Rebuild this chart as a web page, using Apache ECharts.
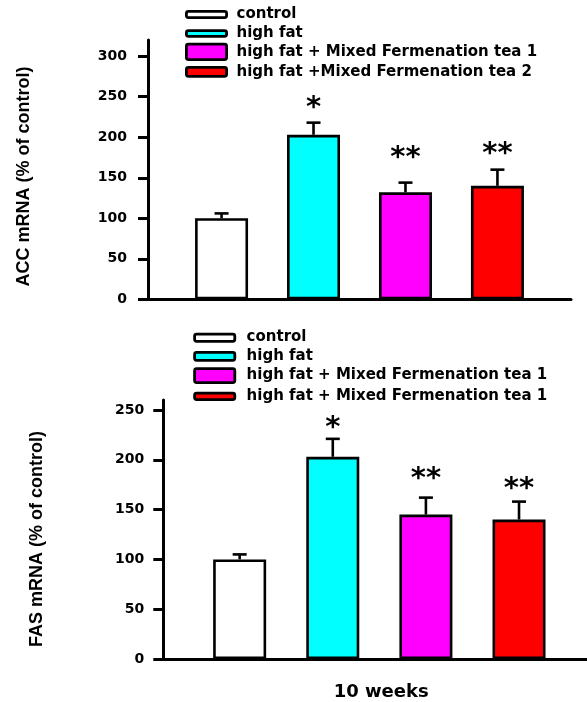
<!DOCTYPE html>
<html>
<head>
<meta charset="utf-8">
<script src="https://cdn.jsdelivr.net/npm/echarts@6/dist/echarts.min.js"></script>
<style>
  html, body { margin: 0; padding: 0; background: #fff; }
  #chart { width: 587px; height: 702px; }
</style>
</head>
<body>
<div id="chart"></div>
<script>
// Group names shown in each legend
const accGroups = ['control', 'high fat', 'high fat + Mixed Fermenation tea 1', 'high fat +Mixed Fermenation tea 2'];
const fasGroups = ['control', 'high fat', 'high fat + Mixed Fermenation tea 1', 'high fat + Mixed Fermenation tea 1'];

// ACC mRNA (% of control): mean and SEM
const accMean = [100, 203, 132, 140];
const accSem = [6, 15, 12, 20];

// FAS mRNA (% of control): mean and SEM
const fasMean = [100, 203, 145, 140];
const fasSem = [5, 18, 17, 18];

// Significance marks above each bar
const accSig = ['', '*', '**', '**'];
const fasSig = ['', '*', '**', '**'];

// Tick values on the y axes
const accTicks = [0, 50, 100, 150, 200, 250, 300];
const fasTicks = [0, 50, 100, 150, 200, 250];

const xTitle = '10 weeks';
const accTitle = 'ACC mRNA (% of control)';
const fasTitle = 'FAS mRNA (% of control)';

// ---- styling / layout ----
const barColors = ['#ffffff', '#00ffff', '#ff00ff', '#ff0000'];
const labelFont = '"DejaVu Sans", sans-serif';
const titleFont = '"Liberation Sans", Arial, sans-serif';
// pixel gap between an error-bar cap and the significance mark above it
const accMarkGap = [0, 14, 24, 15];
const fasMarkGap = [0, 10, 18, 12];

function barSeries(idx, means) {
  return {
    type: 'bar',
    xAxisIndex: idx,
    yAxisIndex: idx,
    barWidth: 53,
    data: means.map((v, i) => ({ value: [i, v], itemStyle: { color: barColors[i] } })),
    itemStyle: { borderColor: '#000', borderWidth: 2.6 },
    silent: true
  };
}

function errorSeries(idx, means, sems, marks, gaps) {
  return {
    type: 'custom',
    xAxisIndex: idx,
    yAxisIndex: idx,
    z: 5,
    silent: true,
    data: means.map((v, i) => [i, v, sems[i]]),
    encode: { x: 0, y: 1 },
    renderItem(params, api) {
      const x = api.value(0), v = api.value(1), e = api.value(2);
      const base = api.coord([x, v]);
      const top = api.coord([x, v + e]);
      const half = 7;
      const line = { stroke: '#000', lineWidth: 2.6 };
      const children = [
        { type: 'line', shape: { x1: top[0], y1: base[1], x2: top[0], y2: top[1] }, style: line },
        { type: 'line', shape: { x1: top[0] - half, y1: top[1], x2: top[0] + half, y2: top[1] }, style: line }
      ];
      const m = marks[params.dataIndex];
      if (m) {
        children.push({
          type: 'text', x: top[0], y: top[1] - gaps[params.dataIndex],
          style: { text: m, font: 'bold 29px ' + labelFont, fill: '#000', align: 'center', verticalAlign: 'middle' }
        });
      }
      return { type: 'group', children };
    }
  };
}

function xAxisCfg(idx, min, max, name) {
  return {
    type: 'value', gridIndex: idx, min, max,
    axisLine: { show: true, onZero: true, lineStyle: { color: '#000', width: 3 } },
    axisTick: { show: false }, axisLabel: { show: false }, splitLine: { show: false },
    name: name || '', nameLocation: 'middle', nameGap: 24,
    nameTextStyle: { color: '#000', fontFamily: labelFont, fontWeight: 'bold', fontSize: 18, padding: [0, 0, 0, 12] }
  };
}

function yAxisCfg(idx, max, ticks, margin) {
  return {
    type: 'value', gridIndex: idx, min: 0, max, interval: 50,
    axisLine: { show: true, onZero: false, lineStyle: { color: '#000', width: 3 } },
    axisTick: { show: true, length: 10, lineStyle: { color: '#000', width: 3 }, customValues: ticks },
    axisLabel: { customValues: ticks, margin, color: '#000', fontFamily: labelFont, fontWeight: 'bold', fontSize: 14 },
    splitLine: { show: false }
  };
}

function legendGraphics(names, boxX, textX, boxes, rows) {
  const els = [];
  names.forEach((n, i) => {
    const [y0, y1] = boxes[i];
    els.push({
      type: 'rect', silent: true,
      shape: { x: boxX + 1.4, y: y0 + 1.4, width: 43 - 2.8, height: y1 - y0 - 2.8, r: 2 },
      style: { fill: barColors[i], stroke: '#000', lineWidth: 2.8 }
    });
    els.push({
      type: 'text', silent: true, x: textX, y: rows[i],
      style: { text: n, font: 'bold 15px ' + labelFont, fill: '#000', align: 'left', verticalAlign: 'middle' }
    });
  });
  return els;
}

const chart = echarts.init(document.getElementById('chart'), null, { renderer: 'canvas' });

chart.setOption({
  animation: false,
  backgroundColor: '#fff',
  grid: [
    { left: 148, right: 16, top: 40, bottom: 402.7 },
    { left: 163.3, right: 0, top: 400, bottom: 37.7 }
  ],
  xAxis: [
    xAxisCfg(0, -0.8, 3.8),
    xAxisCfg(1, -0.82, 3.73, xTitle)
  ],
  yAxis: [
    yAxisCfg(0, 320, accTicks, 21),
    yAxisCfg(1, 260, fasTicks, 19)
  ],
  series: [
    barSeries(0, accMean),
    errorSeries(0, accMean, accSem, accSig, accMarkGap),
    barSeries(1, fasMean),
    errorSeries(1, fasMean, fasSem, fasSig, fasMarkGap)
  ],
  graphic: [
    {
      type: 'text', x: 24, y: 176.5, rotation: Math.PI / 2, silent: true,
      style: { text: accTitle, font: 'bold 18px ' + titleFont, fill: '#000', align: 'center', verticalAlign: 'middle' }
    },
    {
      type: 'text', x: 37, y: 539, rotation: Math.PI / 2, silent: true,
      style: { text: fasTitle, font: 'bold 18px ' + titleFont, fill: '#000', align: 'center', verticalAlign: 'middle' }
    },
    ...legendGraphics(accGroups, 185, 236.5,
      [[10, 19], [29.3, 37.7], [42.7, 61], [66, 77.7]], [14, 33.3, 52.3, 72.5]),
    ...legendGraphics(fasGroups, 193.2, 246.6,
      [[332.7, 342.7], [351, 361.7], [367.3, 384], [391.7, 401]], [336.7, 356, 375, 396])
  ]
});
</script>
</body>
</html>
